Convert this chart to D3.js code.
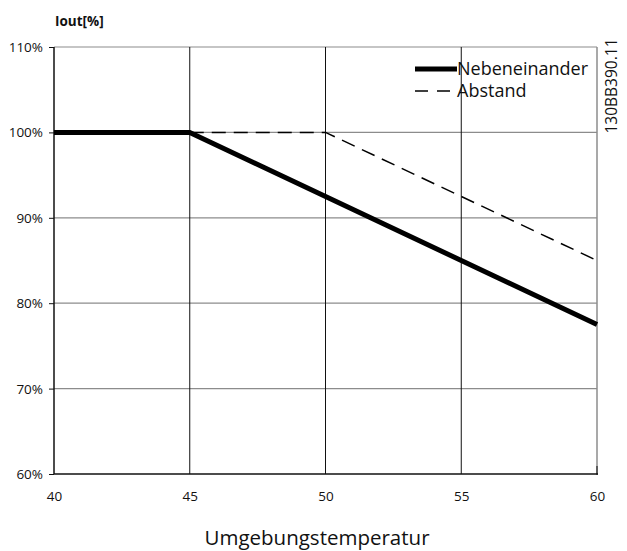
<!DOCTYPE html>
<html>
<head>
<meta charset="utf-8">
<script src="https://cdn.jsdelivr.net/npm/d3@7"></script>
<style>
  body { margin: 0; background: #fff; font-family: "Open Sans", "Noto Sans", sans-serif; }
  svg { display: block; }
</style>
</head>
<body>
<svg id="chart" width="627" height="551"></svg>
<script>
// data
const xTicks = [40, 45, 50, 55, 60];
const yTicks = [60, 70, 80, 90, 100, 110];
const sideBySide = [[40, 100], [45, 100], [60, 77.5]];   // Nebeneinander
const withGap = [[45, 100], [50, 100], [60, 85]];        // Abstand
const seriesNames = ["Nebeneinander", "Abstand"];

const svg = d3.select("#chart");
const plotL = 54, plotR = 597, plotT = 47, plotB = 474;

const x = d3.scaleLinear().domain([40, 60]).range([plotL, plotR]);
const y = d3.scaleLinear().domain([60, 110]).range([plotB, plotT]);

// horizontal grid (grey)
svg.append("g").selectAll("line").data(yTicks.filter(d => d > 60))
  .enter().append("line")
  .attr("x1", plotL).attr("x2", plotR)
  .attr("y1", d => y(d)).attr("y2", d => y(d))
  .attr("stroke", "#8c8c8c").attr("stroke-width", 1.2);

// vertical grid (dark)
svg.append("g").selectAll("line").data(xTicks.filter(d => d > 40 && d < 60))
  .enter().append("line")
  .attr("x1", d => x(d)).attr("x2", d => x(d))
  .attr("y1", plotT).attr("y2", plotB)
  .attr("stroke", "#111").attr("stroke-width", 1);

// right border
svg.append("line").attr("x1", plotR).attr("x2", plotR).attr("y1", plotT).attr("y2", plotB)
  .attr("stroke", "#8c8c8c").attr("stroke-width", 1.5);

// axes
const yAxis = svg.append("g").attr("transform", `translate(${plotL},0)`)
  .call(d3.axisLeft(y).tickValues(yTicks).tickSize(5).tickFormat(d => d + "%"));
const xAxis = svg.append("g").attr("transform", `translate(0,${plotB})`)
  .call(d3.axisBottom(x).tickValues(xTicks).tickSize(0));
[yAxis, xAxis].forEach(a => {
  a.select(".domain").attr("stroke", "#111").attr("stroke-width", 1.5);
  a.selectAll(".tick line").attr("stroke", "#111");
  a.selectAll("text").attr("font-family", "Open Sans, sans-serif").attr("font-size", 13.5).attr("fill", "#111");
});
yAxis.selectAll("text").attr("x", -11).attr("dy", "0.34em");
xAxis.selectAll("text").attr("y", 27).attr("dy", 0);
xAxis.selectAll(".tick line").remove();
xAxis.select(".domain").attr("d", `M${plotL},0H${plotR + 1}`);
yAxis.select(".domain").attr("d", `M0,${plotB}V${plotT}`);

// small tick at bottom-right
svg.append("line").attr("x1", plotR).attr("x2", plotR).attr("y1", plotB - 8).attr("y2", plotB + 1)
  .attr("stroke", "#111").attr("stroke-width", 1);

const line = d3.line().x(d => x(d[0])).y(d => y(d[1]));

svg.append("path").datum(withGap).attr("d", line)
  .attr("fill", "none").attr("stroke", "#000").attr("stroke-width", 1.5)
  .attr("stroke-dasharray", "14,8");

svg.append("path").datum(sideBySide).attr("d", line)
  .attr("fill", "none").attr("stroke", "#000").attr("stroke-width", 5);

// legend
const legend = svg.append("g").attr("transform", "translate(415,69)");
legend.append("line").attr("x1", 0).attr("x2", 42).attr("y1", 0).attr("y2", 0)
  .attr("stroke", "#000").attr("stroke-width", 5);
legend.append("line").attr("x1", 0).attr("x2", 40).attr("y1", 22).attr("y2", 22)
  .attr("stroke", "#000").attr("stroke-width", 1.6).attr("stroke-dasharray", "13,9");
legend.selectAll("text").data(seriesNames).enter().append("text")
  .attr("x", 42).attr("y", (d, i) => i * 22 + 6)
  .attr("font-size", 18).attr("fill", "#111")
  .text(d => d);

// code label
svg.append("text").attr("transform", "translate(617,86) rotate(-90)")
  .attr("text-anchor", "middle").attr("font-size", 15.5).attr("fill", "#111")
  .text("130BB390.11");

// titles
svg.append("text").attr("x", 55).attr("y", 26)
  .attr("font-size", 13.5).attr("font-weight", "bold").attr("fill", "#111")
  .text("Iout[%]");
svg.append("text").attr("x", 317).attr("y", 545)
  .attr("text-anchor", "middle").attr("font-size", 20.5).attr("fill", "#111")
  .text("Umgebungstemperatur");
</script>
</body>
</html>
